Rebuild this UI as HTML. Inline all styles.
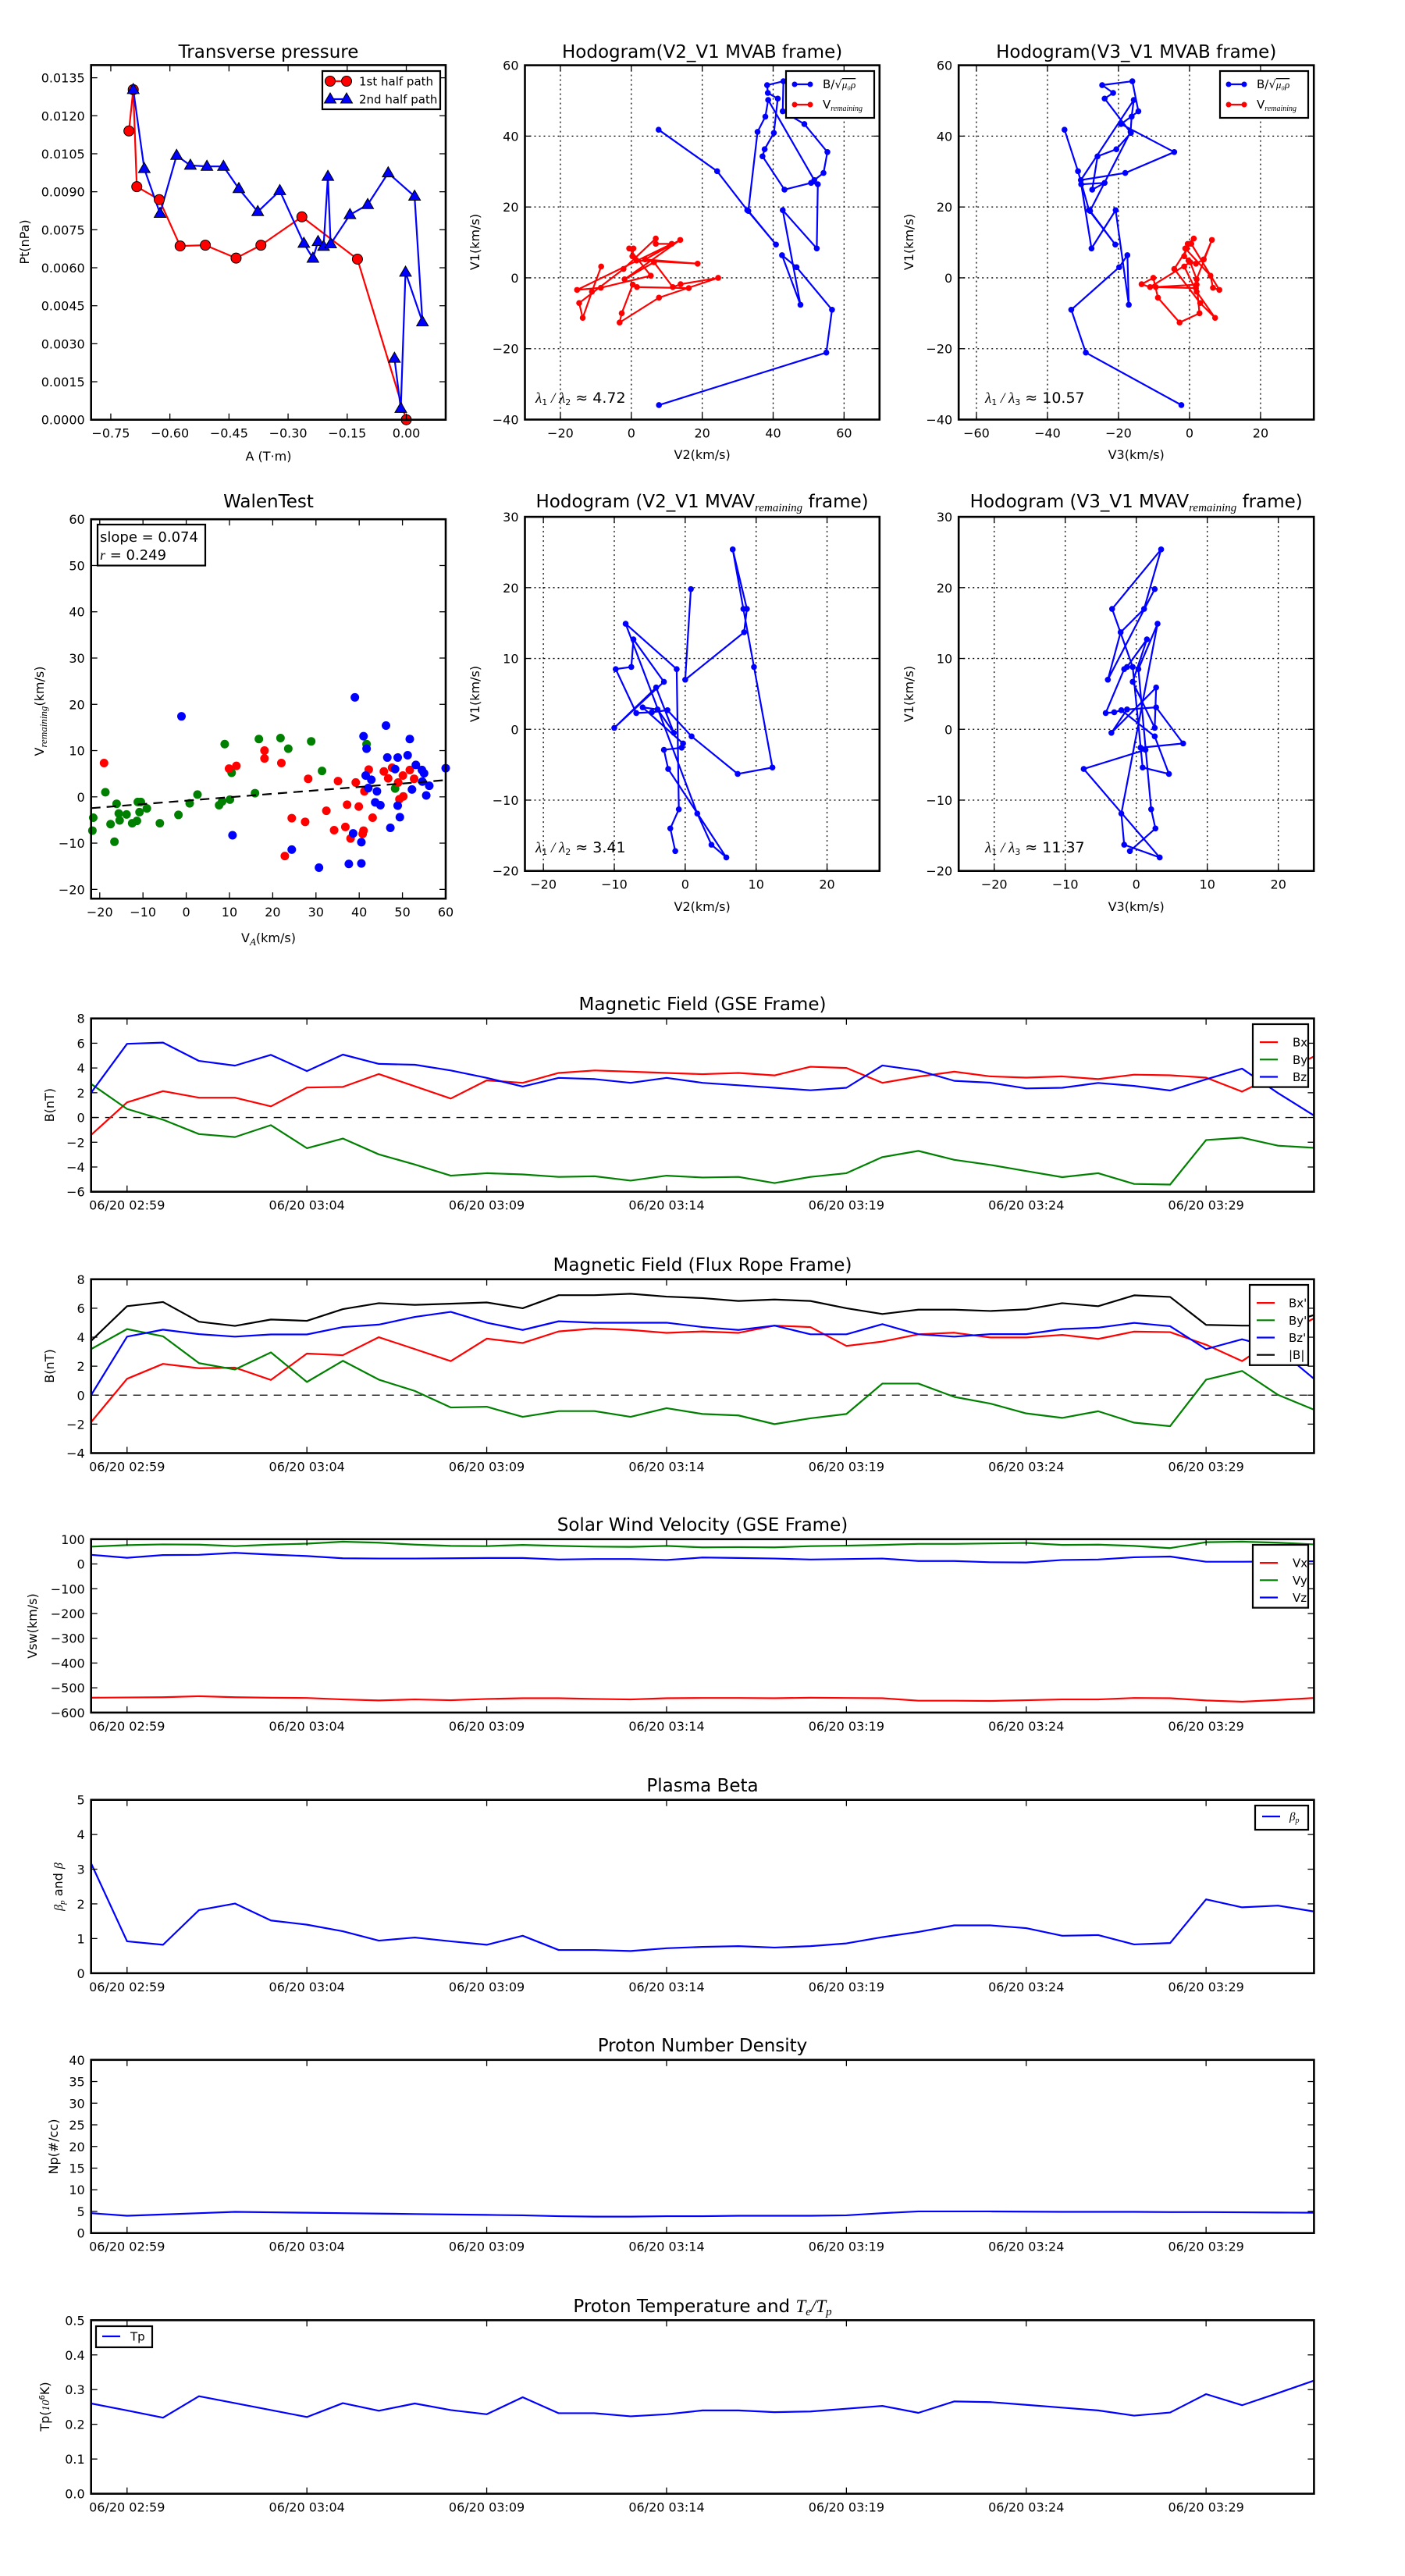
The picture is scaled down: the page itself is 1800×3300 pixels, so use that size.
<!DOCTYPE html>
<html><head><meta charset="utf-8">
<style>
html,body{margin:0;padding:0;background:#fff}
svg{display:block}
text{font-family:'DejaVu Sans','Liberation Sans',sans-serif;fill:#000}
</style></head>
<body>
<svg id="fig" xmlns="http://www.w3.org/2000/svg" width="1800" height="3300" viewBox="0 0 1800 3300"><rect width="1800" height="3300" fill="#fff"/></svg>
<script>
// ---------------- DATA ----------------
const ptHalf1A=[-0.704,-0.693,-0.684,-0.627,-0.574,-0.510,-0.432,-0.369,-0.265,-0.124,0.000];
const ptHalf1P=[0.01140,0.01303,0.00920,0.00869,0.00686,0.00689,0.00638,0.00689,0.00801,0.00634,0.00000];
const ptHalf2A=[-0.693,-0.665,-0.625,-0.583,-0.548,-0.506,-0.464,-0.425,-0.377,-0.321,-0.260,-0.237,-0.224,-0.210,-0.199,-0.192,-0.143,-0.098,-0.046,0.021,0.041,-0.002,-0.014,-0.030];
const ptHalf2P=[0.01303,0.00991,0.00814,0.01043,0.01004,0.01000,0.01000,0.00912,0.00821,0.00904,0.00696,0.00637,0.00703,0.00684,0.00960,0.00694,0.00809,0.00849,0.00974,0.00882,0.00386,0.00582,0.00044,0.00242];
const ptXTicks=[-0.75,-0.60,-0.45,-0.30,-0.15,0.00];
const ptYTicks=[0,0.0015,0.003,0.0045,0.006,0.0075,0.009,0.0105,0.012,0.0135];

const hodoBV2=[7.7,24.2,32.7,40.8,33.0,35.6,37.8,38.6,51.6,54.2,55.3,48.8,42.7,42.9,38.3,38.5,41.3,40.2,37.6,37.0,43.2,50.7,52.6,52.3,42.7,47.7,42.5,46.6,56.6,55.0,7.8];
const hodoBV1=[41.8,30.1,19.1,9.4,18.9,41.2,45.5,50.2,27.6,29.6,35.5,43.4,47.0,55.5,54.4,52.2,50.6,40.9,36.3,34.3,24.9,26.8,26.4,8.3,19.1,-7.6,6.4,3.0,-9.0,-21.1,-35.9];
const hodoBV3=[-35.2,-31.4,-28.3,-20.9,-28.0,-16.6,-16.3,-15.7,-30.6,-18.1,-4.3,-19.3,-14.4,-16.1,-24.6,-21.5,-23.9,-16.5,-20.6,-25.9,-27.4,-23.9,-30.5,-27.6,-20.8,-17.1,-17.5,-19.8,-33.3,-29.2,-2.3];
const hodoRV1=[3.2,-3.9,-11.3,-7.1,2.5,11.1,9.6,9.6,-3.4,-2.8,0.6,8.3,8.3,6.1,4.9,4.0,5.2,10.7,-0.4,4.4,-2.6,-1.8,0,-5.6,-12.6,-10.0,-1.9,-2.6,-2.9];
const hodoRV2=[-8.5,-11.1,-13.7,-14.7,-2.2,6.9,6.9,11.4,-15.3,-8.6,5.5,-0.6,0.6,0.3,1.5,18.7,3.9,13.8,-1.9,6.4,11.7,13.9,24.5,7.8,-3.3,-2.7,0.4,1.6,16.2];
const hodoRV3=[-1.5,2.0,7.2,3.0,-4.3,1.2,-0.5,0.5,8.4,6.6,5.9,-1.2,-0.8,-1.5,-0.3,1.8,4.0,6.3,2.0,0.2,-11.1,-13.5,-10.2,-8.9,-2.8,2.8,2.0,-9.5,1.8];
const mvavV2=[0.8,0,8.3,8.7,6.7,8.2,9.7,12.3,7.4,0.9,-2.5,-4.7,-6.9,-9.8,-7.6,-7.3,-3.0,-10.0,-4.1,-1.6,-3.9,-6.0,-0.3,-0.5,-3.0,-2.4,5.8,3.7,1.7,-8.4,-1.2,-0.9,-2.1,-1.4];
const mvavV1=[19.8,7.0,13.7,17.0,25.4,17.0,8.8,-5.4,-6.3,-1.0,2.7,2.4,2.3,8.5,8.8,12.7,6.7,0.2,5.9,-0.5,2.8,3.1,-2.0,-2.6,-2.9,-5.6,-18.1,-16.3,-11.9,14.9,8.5,-11.3,-14.0,-17.2];
const mvavV3=[2.6,-4.0,-2.2,1.1,3.5,-3.4,-0.5,0.9,4.6,2.6,-2.1,-3.1,-4.3,-1.7,-1.3,1.5,-0.5,2.6,2.8,-3.5,-1.3,2.8,6.6,0.6,1.3,-7.4,3.3,-1.7,-2.1,3.0,0.3,2.1,2.7,-0.9];

const walenGreenX=[-21.5,-21.7,-18.7,-17.5,-16.6,-16.1,-15.6,-15.4,-13.8,-12.5,-11.4,-11.2,-10.5,-10.8,-9.1,-6.1,-1.8,0.8,2.6,7.6,8.3,8.9,10.1,10.5,15.9,16.8,21.8,23.6,28.9,31.4,41.7,48.3];
const walenGreenY=[-4.5,-7.3,1.0,-5.9,-9.7,-1.5,-3.6,-5.1,-3.8,-5.7,-5.2,-1.1,-1.1,-3.3,-2.5,-5.7,-3.9,-1.4,0.5,-1.8,-1.0,11.4,-0.6,5.2,0.8,12.5,12.7,10.4,12.0,5.6,11.4,1.8];
const walenRedX=[-19.0,9.9,11.6,18.1,18.1,22.0,22.8,24.4,27.5,28.2,32.4,34.2,35.1,36.8,37.2,38.0,39.2,39.9,40.8,41.0,41.2,42.2,43.1,45.7,46.7,47.6,49.0,49.3,50.1,50.2,51.7,52.7];
const walenRedY=[7.3,6.1,6.7,10.0,8.3,7.3,-12.8,-4.6,-5.4,3.9,-3.0,-7.2,3.4,-6.5,-1.7,-9.0,3.1,-2.1,-8.0,-7.3,1.2,5.9,-4.5,5.5,4.0,6.3,3.1,-0.5,4.6,0.1,5.8,3.9];
const walenBlueX=[-1.1,10.7,24.4,30.7,37.6,38.6,39.0,40.5,40.5,41.0,41.5,41.7,42.1,42.8,43.7,44.1,44.9,46.2,46.5,47.2,48.3,48.9,48.9,49.4,51.2,51.7,52.2,53.1,54.5,54.6,55.0,55.5,56.2,60.0];
const walenBlueY=[17.4,-8.3,-11.4,-15.3,-14.5,-7.9,21.5,-14.4,-9.8,13.1,4.6,10.4,1.9,3.7,-1.2,1.2,-1.8,15.4,8.5,-6.7,6.0,8.5,-1.9,-4.4,9.0,12.5,1.6,6.9,5.8,3.3,5.1,0.3,2.4,6.2];
const walenFitSlope=0.074;
const walenFitIntercept=-0.82;

const timeMinutes=[0,1,2,3,4,5,6,7,8,9,10,11,12,13,14,15,16,17,18,19,20,21,22,23,24,25,26,27,28,29,30,31,32,33,34];
const timeTickPos=[1,6,11,16,21,26,31];
const timeTickLabels=['06/20 02:59','06/20 03:04','06/20 03:09','06/20 03:14','06/20 03:19','06/20 03:24','06/20 03:29'];

const gseBx=[-1.41,1.22,2.13,1.6,1.6,0.9,2.42,2.47,3.51,2.52,1.53,3.0,2.8,3.6,3.8,3.7,3.6,3.5,3.6,3.4,4.1,4.0,2.8,3.3,3.70,3.32,3.22,3.32,3.1,3.46,3.41,3.22,2.09,3.5,4.93];
const gseBy=[2.71,0.69,-0.18,-1.34,-1.58,-0.62,-2.48,-1.7,-2.98,-3.8,-4.7,-4.5,-4.6,-4.8,-4.75,-5.1,-4.7,-4.85,-4.8,-5.3,-4.8,-4.5,-3.2,-2.7,-3.42,-3.83,-4.33,-4.82,-4.5,-5.37,-5.42,-1.82,-1.63,-2.28,-2.45];
const gseBz=[2.0,5.95,6.05,4.57,4.19,5.06,3.75,5.08,4.33,4.26,3.8,3.2,2.5,3.2,3.1,2.8,3.2,2.8,2.6,2.4,2.2,2.4,4.2,3.8,2.96,2.81,2.35,2.4,2.79,2.55,2.18,3.08,3.95,1.97,0.16];
const gseYTicks=[-6,-4,-2,0,2,4,6,8];

const frBx=[-1.86,1.13,2.16,1.86,1.9,1.05,2.87,2.76,4.0,3.18,2.35,3.9,3.6,4.4,4.6,4.5,4.3,4.4,4.3,4.8,4.7,3.4,3.7,4.2,4.31,3.98,3.98,4.16,3.88,4.39,4.35,3.48,2.35,4.0,5.3];
const frBy=[3.18,4.56,4.06,2.21,1.77,2.95,0.91,2.37,1.07,0.29,-0.85,-0.8,-1.5,-1.1,-1.1,-1.5,-0.9,-1.3,-1.4,-2.0,-1.6,-1.3,0.8,0.8,-0.12,-0.58,-1.26,-1.57,-1.11,-1.9,-2.14,1.07,1.67,0.02,-1.0];
const frBz=[0,4.04,4.52,4.21,4.04,4.19,4.19,4.7,4.87,5.4,5.75,5.0,4.5,5.1,5.0,5.0,5.0,4.7,4.5,4.8,4.2,4.2,4.9,4.2,4.04,4.21,4.21,4.56,4.66,4.99,4.76,3.18,3.86,3.2,1.13];
const frBt=[3.75,6.14,6.43,5.07,4.78,5.22,5.13,5.94,6.35,6.23,6.31,6.4,6.0,6.9,6.9,7.0,6.8,6.7,6.5,6.6,6.5,6.0,5.6,5.9,5.9,5.81,5.92,6.35,6.14,6.89,6.78,4.85,4.8,4.8,5.53];
const frYTicks=[-4,-2,0,2,4,6,8];

const velVx=[-540,-539,-538,-534,-538,-540,-541,-547,-551,-547,-550,-545,-542,-542,-545,-547,-542,-541,-541,-542,-540,-541,-542,-552,-552,-553,-550,-547,-547,-541,-542,-551,-556,-549,-541];
const velVy=[70,76,79,78,72,78,82,90,86,78,73,72,77,73,70,69,73,67,68,67,72,74,77,81,81,83,85,77,78,73,64,88,90,86,79];
const velVz=[37,25,36,37,45,38,32,23,22,22,23,24,24,18,20,20,16,26,24,22,18,20,22,12,12,7,6,16,18,27,30,9,9,10,11];
const velYTicks=[-600,-500,-400,-300,-200,-100,0,100];

const betaP=[3.17,0.92,0.82,1.82,2.01,1.52,1.4,1.21,0.94,1.03,0.92,0.82,1.08,0.67,0.67,0.64,0.72,0.76,0.78,0.74,0.78,0.86,1.04,1.19,1.38,1.38,1.30,1.08,1.1,0.83,0.87,2.13,1.9,1.95,1.78];
const betaYTicks=[0,1,2,3,4,5];

const densNp=[4.6,4.0,4.3,4.6,4.9,4.8,4.7,4.6,4.5,4.4,4.3,4.2,4.1,3.9,3.8,3.8,3.9,3.9,4.0,4.0,4.0,4.1,4.6,5.0,5.0,5.0,4.95,4.9,4.9,4.9,4.85,4.85,4.8,4.75,4.7];
const densYTicks=[0,5,10,15,20,25,30,35,40];

const tempTp=[0.260,0.240,0.219,0.281,0.261,0.241,0.221,0.261,0.239,0.260,0.241,0.229,0.278,0.232,0.232,0.223,0.229,0.240,0.240,0.235,0.237,0.245,0.253,0.233,0.266,0.264,0.256,0.248,0.240,0.225,0.234,0.287,0.255,0.290,0.326];
const tempYTicks=[0,0.1,0.2,0.3,0.4,0.5];

// ---------------- HELPERS ----------------
const NS='http://www.w3.org/2000/svg';
const svg=document.getElementById('fig');
function el(tag,attrs,parent){const e=document.createElementNS(NS,tag);for(const k in attrs)e.setAttribute(k,attrs[k]);(parent||svg).appendChild(e);return e;}
function nm(e,name){
  
  
  return e;
}
function fmt(v,d){const s=Math.abs(v).toFixed(d);return (v<0&&Math.abs(v)>1e-12?'\u2212':'')+s;}
function txt(parent,x,y,str,attrs,name){const t=el('text',Object.assign({x:x,y:y},attrs||{}),parent);t.textContent=str;nm(t,name);return t;}

function makeAxes(c){
  const g=el('g',{}); nm(g,c.name);
  const sx=v=>c.l+(v-c.x0)/(c.x1-c.x0)*(c.r-c.l);
  const sy=v=>c.b-(v-c.y0)/(c.y1-c.y0)*(c.b-c.t);
  const cid='clip-'+c.name;
  const defs=el('defs',{},g);
  const cp=el('clipPath',{id:cid},defs);
  el('rect',{x:c.l-8,y:c.t-8,width:c.r-c.l+16,height:c.b-c.t+16},cp);
  if(c.grid){
    const gg=el('g',{stroke:'#000','stroke-width':1.3,'stroke-dasharray':'2,4'},g); nm(gg,c.name+'-grid');
    c.xt.forEach(v=>{if(v<=c.x0||v>=c.x1)return;const ln=el('line',{x1:sx(v),x2:sx(v),y1:c.t,y2:c.b},gg);nm(ln,'grid-line-x');});
    c.yt.forEach(v=>{if(v<=c.y0||v>=c.y1)return;const ln=el('line',{x1:c.l,x2:c.r,y1:sy(v),y2:sy(v)},gg);nm(ln,'grid-line-y');});
  }
  const under=el('g',{},g); nm(under,c.name+'-reference-lines');
  const data=el('g',{'clip-path':'url(#'+cid+')'},g); nm(data,c.name+'-data');
  const fr=el('g',{},g); nm(fr,c.name+'-axes');
  const tg=el('g',{stroke:'#000','stroke-width':1.3},fr); nm(tg,c.name+'-ticks');
  c.xt.forEach(v=>{if(v<c.x0-1e-9||v>c.x1+1e-9)return;const x=sx(v);el('line',{x1:x,x2:x,y1:c.b,y2:c.b-8},tg);el('line',{x1:x,x2:x,y1:c.t,y2:c.t+8},tg);});
  c.yt.forEach(v=>{if(v<c.y0-1e-9||v>c.y1+1e-9)return;const y=sy(v);el('line',{x1:c.l,x2:c.l+8,y1:y,y2:y},tg);el('line',{x1:c.r,x2:c.r-8,y1:y,y2:y},tg);});
  const frame=el('rect',{x:c.l,y:c.t,width:c.r-c.l,height:c.b-c.t,fill:'none',stroke:'#000','stroke-width':2.6},fr); nm(frame,c.name+'-frame');
  const xg=el('g',{'font-size':16,'text-anchor':'middle'},fr); nm(xg,c.name+'-x-tick-labels');
  c.xt.forEach((v,i)=>{txt(xg,sx(v),c.b+23,c.xl[i],{},'x-tick-label');});
  const yg=el('g',{'font-size':16,'text-anchor':'end'},fr); nm(yg,c.name+'-y-tick-labels');
  c.yt.forEach((v,i)=>{txt(yg,c.l-8,sy(v)+6,c.yl[i],{},'y-tick-label');});
  return {sx,sy,data,under,fr,c};
}
function polyline(ax,xs,ys,color,name,w){
  const pts=xs.map((x,i)=>ax.sx(x).toFixed(2)+','+ax.sy(ys[i]).toFixed(2)).join(' ');
  const p=el('polyline',{points:pts,fill:'none',stroke:color,'stroke-width':w||2.2,'stroke-linejoin':'round'},ax.data);
  nm(p,name);
  return p;
}
function dots(ax,xs,ys,color,name,r,stroke){
  const g=el('g',{fill:color},ax.data); nm(g,name);
  xs.forEach((x,i)=>{const c=el('circle',{cx:ax.sx(x),cy:ax.sy(ys[i]),r:r},g);if(stroke){c.setAttribute('stroke','#000');c.setAttribute('stroke-width','1');}nm(c,name+'-point');});
  return g;
}
function tris(ax,xs,ys,color,name){
  const g=el('g',{fill:color,stroke:'#000','stroke-width':1},ax.data); nm(g,name);
  xs.forEach((x,i)=>{const X=ax.sx(x),Y=ax.sy(ys[i]);const t=el('polygon',{points:`${X},${Y-8} ${X-7.5},${Y+5} ${X+7.5},${Y+5}`},g);nm(t,name+'-point');});
}
function title(x,y,parts,name){
  const t=el('text',{x:x,y:y,'font-size':23,'text-anchor':'middle'}); nm(t,name);
  parts.forEach(p=>{const s=el('tspan',{},t);if(p.math){s.setAttribute('font-family','Liberation Serif,serif');s.setAttribute('font-style','italic');}if(p.size)s.setAttribute('font-size',p.size);if(p.dy)s.setAttribute('dy',p.dy);s.textContent=p.t;});
  return t;
}
function vlabel(x,y,parts,name,size){
  const t=el('text',{x:0,y:0,'font-size':size||16,'text-anchor':'middle',transform:`translate(${x},${y}) rotate(-90)`}); nm(t,name);
  parts.forEach(p=>{const s=el('tspan',{},t);if(p.math){s.setAttribute('font-family','Liberation Serif,serif');s.setAttribute('font-style','italic');}if(p.size)s.setAttribute('font-size',p.size);if(p.dy)s.setAttribute('dy',p.dy);s.textContent=p.t;});
  return t;
}
function hlabel(x,y,parts,name,size){
  const t=el('text',{x:x,y:y,'font-size':size||16,'text-anchor':'middle'}); nm(t,name);
  parts.forEach(p=>{const s=el('tspan',{},t);if(p.math){s.setAttribute('font-family','Liberation Serif,serif');s.setAttribute('font-style','italic');}if(p.size)s.setAttribute('font-size',p.size);if(p.dy)s.setAttribute('dy',p.dy);s.textContent=p.t;});
  return t;
}
function legendBox(x1,y1,x2,y2,name){
  const g=el('g',{}); nm(g,name);
  const r=el('rect',{x:x1,y:y1,width:x2-x1,height:y2-y1,fill:'#fff',stroke:'#000','stroke-width':2.2},g); nm(r,name+'-box');
  return g;
}
function legendLine(g,x1,x2,y,color,name){const l=el('line',{x1:x1,x2:x2,y1:y,y2:y,stroke:color,'stroke-width':2.2},g);nm(l,name);return l;}

// ---------------- TRANSVERSE PRESSURE ----------------
(function(){
  const ax=makeAxes({name:'transverse-pressure-chart',l:116.7,r:571,t:83.4,b:537.7,x0:-0.8,x1:0.1,y0:0,y1:0.014,
    xt:ptXTicks,xl:ptXTicks.map(v=>fmt(v,2)),yt:ptYTicks,yl:ptYTicks.map(v=>fmt(v,4))});
  polyline(ax,ptHalf1A,ptHalf1P,'#ff0000','first-half-path-line',2.2);
  polyline(ax,ptHalf2A,ptHalf2P,'#0000ff','second-half-path-line',2.2);
  dots(ax,ptHalf1A,ptHalf1P,'#ff0000','first-half-path-markers',6.5,true);
  tris(ax,ptHalf2A,ptHalf2P,'#0000ff','second-half-path-markers');
  title(344,74,[{t:'Transverse pressure'}],'transverse-pressure-title');
  vlabel(37,310,[{t:'Pt(nPa)'}],'y-axis-title');
  hlabel(344,590,[{t:'A (T\u00b7m)'}],'x-axis-title');
  const lg=legendBox(413,91,564,140,'transverse-pressure-legend');
  legendLine(lg,423,444,104,'#ff0000','legend-line-first');
  const c1=el('circle',{cx:423,cy:104,r:6.5,fill:'#ff0000',stroke:'#000'},lg); nm(c1,'legend-marker');
  const c2=el('circle',{cx:444,cy:104,r:6.5,fill:'#ff0000',stroke:'#000'},lg); nm(c2,'legend-marker');
  txt(lg,460,109.5,'1st half path',{'font-size':15},'legend-entry-first-half');
  legendLine(lg,423,444,127,'#0000ff','legend-line-second');
  const t1=el('polygon',{points:'423,119 415.5,132 430.5,132',fill:'#0000ff',stroke:'#000'},lg); nm(t1,'legend-marker');
  const t2=el('polygon',{points:'444,119 436.5,132 451.5,132',fill:'#0000ff',stroke:'#000'},lg); nm(t2,'legend-marker');
  txt(lg,460,132.5,'2nd half path',{'font-size':15},'legend-entry-second-half');
})();

// ---------------- HODOGRAMS ----------------
function hodoLegend(x1,y1,name){
  const lg=legendBox(x1,y1,x1+113,y1+60,name);
  legendLine(lg,x1+11,x1+31,y1+17,'#0000ff','legend-line-b');
  [x1+11,x1+31].forEach(x=>{const c=el('circle',{cx:x,cy:y1+17,r:3.5,fill:'#0000ff'},lg);nm(c,'legend-marker');});
  const t=el('text',{x:x1+47,y:y1+22,'font-size':15},lg); nm(t,'legend-entry-b-alfven');
  const a=el('tspan',{},t); a.textContent='B/\u221a';
  const b=el('tspan',{'font-family':'Liberation Serif,serif','font-style':'italic','font-size':13,'text-decoration':'overline'},t); b.textContent='\u03bc\u2080\u03c1';
  legendLine(lg,x1+11,x1+31,y1+43,'#ff0000','legend-line-v');
  [x1+11,x1+31].forEach(x=>{const c=el('circle',{cx:x,cy:y1+43,r:3.5,fill:'#ff0000'},lg);nm(c,'legend-marker');});
  const t2=el('text',{x:x1+47,y:y1+48,'font-size':15},lg); nm(t2,'legend-entry-v-remaining');
  const c=el('tspan',{},t2); c.textContent='V';
  const d=el('tspan',{'font-family':'Liberation Serif,serif','font-style':'italic','font-size':10,dy:3},t2); d.textContent='remaining';
}
function lambdaText(x,y,sub2,val,name){
  const t=el('text',{x:x,y:y,'font-size':19}); nm(t,name);
  const a=el('tspan',{'font-family':'Liberation Serif,serif','font-style':'italic'},t); a.textContent='\u03bb';
  const b=el('tspan',{'font-size':11,dy:3},t); b.textContent='1';
  const c=el('tspan',{'font-family':'Liberation Serif,serif','font-style':'italic',dy:-3},t); c.textContent=' / \u03bb';
  const d=el('tspan',{'font-size':11,dy:3},t); d.textContent=sub2;
  const e=el('tspan',{dy:-3},t); e.textContent=' \u2248 '+val;
}
const h1x=[-20,0,20,40,60], hy=[-40,-20,0,20,40,60];
(function(){
  const ax=makeAxes({name:'hodogram-v2-v1-mvab',l:672.5,r:1126.8,t:83.6,b:537.5,x0:-30,x1:70,y0:-40,y1:60,grid:true,
    xt:h1x,xl:h1x.map(v=>fmt(v,0)),yt:hy,yl:hy.map(v=>fmt(v,0))});
  polyline(ax,hodoBV2,hodoBV1,'#0000ff','b-alfven-path',2.2);
  dots(ax,hodoBV2,hodoBV1,'#0000ff','b-alfven-points',3.8);
  polyline(ax,hodoRV2,hodoRV1,'#ff0000','v-remaining-path',2.2);
  dots(ax,hodoRV2,hodoRV1,'#ff0000','v-remaining-points',3.8);
  title(899.6,74,[{t:'Hodogram(V2_V1 MVAB frame)'}],'hodogram-v2-v1-mvab-title');
  vlabel(614,310,[{t:'V1(km/s)'}],'y-axis-title');
  hlabel(899.6,588,[{t:'V2(km/s)'}],'x-axis-title');
  hodoLegend(1007,91,'hodogram-v2-v1-legend');
  lambdaText(686,516,'2','4.72','eigenvalue-ratio-label');
})();
const h2x=[-60,-40,-20,0,20];
(function(){
  const ax=makeAxes({name:'hodogram-v3-v1-mvab',l:1228.2,r:1683.2,t:83.6,b:537.5,x0:-65,x1:35,y0:-40,y1:60,grid:true,
    xt:h2x,xl:h2x.map(v=>fmt(v,0)),yt:hy,yl:hy.map(v=>fmt(v,0))});
  polyline(ax,hodoBV3,hodoBV1,'#0000ff','b-alfven-path',2.2);
  dots(ax,hodoBV3,hodoBV1,'#0000ff','b-alfven-points',3.8);
  polyline(ax,hodoRV3,hodoRV1,'#ff0000','v-remaining-path',2.2);
  dots(ax,hodoRV3,hodoRV1,'#ff0000','v-remaining-points',3.8);
  title(1455.7,74,[{t:'Hodogram(V3_V1 MVAB frame)'}],'hodogram-v3-v1-mvab-title');
  vlabel(1170,310,[{t:'V1(km/s)'}],'y-axis-title');
  hlabel(1455.7,588,[{t:'V3(km/s)'}],'x-axis-title');
  hodoLegend(1563,91,'hodogram-v3-v1-legend');
  lambdaText(1262,516,'3','10.57','eigenvalue-ratio-label');
})();
const r2x=[-20,-10,0,10,20], r2y=[-20,-10,0,10,20,30];
(function(){
  const ax=makeAxes({name:'hodogram-v2-v1-mvav',l:672.5,r:1126.8,t:662.1,b:1115.7,x0:-22.6,x1:27.4,y0:-20,y1:30,grid:true,
    xt:r2x,xl:r2x.map(v=>fmt(v,0)),yt:r2y,yl:r2y.map(v=>fmt(v,0))});
  polyline(ax,mvavV2,mvavV1,'#0000ff','mvav-path',2.2);
  dots(ax,mvavV2,mvavV1,'#0000ff','mvav-points',3.8);
  title(899.6,650,[{t:'Hodogram (V2_V1 MVAV'},{t:'remaining',math:1,size:15,dy:5},{t:' frame)',dy:-5}],'hodogram-v2-v1-mvav-title');
  vlabel(614,889,[{t:'V1(km/s)'}],'y-axis-title');
  hlabel(899.6,1167,[{t:'V2(km/s)'}],'x-axis-title');
  lambdaText(686,1092,'2','3.41','eigenvalue-ratio-label');
})();
(function(){
  const ax=makeAxes({name:'hodogram-v3-v1-mvav',l:1228.2,r:1683.2,t:662.1,b:1115.7,x0:-25,x1:25,y0:-20,y1:30,grid:true,
    xt:r2x,xl:r2x.map(v=>fmt(v,0)),yt:r2y,yl:r2y.map(v=>fmt(v,0))});
  polyline(ax,mvavV3,mvavV1,'#0000ff','mvav-path',2.2);
  dots(ax,mvavV3,mvavV1,'#0000ff','mvav-points',3.8);
  title(1455.7,650,[{t:'Hodogram (V3_V1 MVAV'},{t:'remaining',math:1,size:15,dy:5},{t:' frame)',dy:-5}],'hodogram-v3-v1-mvav-title');
  vlabel(1170,889,[{t:'V1(km/s)'}],'y-axis-title');
  hlabel(1455.7,1167,[{t:'V3(km/s)'}],'x-axis-title');
  lambdaText(1262,1092,'3','11.37','eigenvalue-ratio-label');
})();

// ---------------- WALEN ----------------
const walTicks=[-20,-10,0,10,20,30,40,50,60];
(function(){
  const ax=makeAxes({name:'walen-test-chart',l:116.7,r:571,t:665.2,b:1151.2,x0:-22,x1:60,y0:-22,y1:60,
    xt:walTicks,xl:walTicks.map(v=>fmt(v,0)),yt:walTicks,yl:walTicks.map(v=>fmt(v,0))});
  dots(ax,walenGreenX,walenGreenY,'#008000','walen-component-2',5.5);
  dots(ax,walenRedX,walenRedY,'#ff0000','walen-component-1',5.5);
  dots(ax,walenBlueX,walenBlueY,'#0000ff','walen-component-3',5.5);
  const fx=[ax.c.x0,ax.c.x1];
  const fl=el('line',{x1:ax.sx(fx[0]),y1:ax.sy(walenFitSlope*fx[0]+walenFitIntercept),x2:ax.sx(fx[1]),y2:ax.sy(walenFitSlope*fx[1]+walenFitIntercept),stroke:'#000','stroke-width':2.2,'stroke-dasharray':'12,8'},ax.data);
  nm(fl,'walen-fit-line');
  title(344,650,[{t:'WalenTest'}],'walen-test-title');
  vlabel(56,911,[{t:'V'},{t:'remaining',math:1,size:13,dy:4},{t:'(km/s)',dy:-4}],'y-axis-title');
  hlabel(344,1207,[{t:'V'},{t:'A',math:1,size:13,dy:4},{t:'(km/s)',dy:-4}],'x-axis-title');
  const lg=legendBox(125,672,263,724.5,'walen-stats-box');
  txt(lg,128,694,'slope = 0.074',{'font-size':18},'slope-label');
  const t=el('text',{x:128,y:717,'font-size':18},lg); nm(t,'correlation-label');
  const a=el('tspan',{'font-family':'Liberation Serif,serif','font-style':'italic'},t); a.textContent='r';
  const b=el('tspan',{},t); b.textContent=' = 0.249';
})();

// ---------------- TIME SERIES ----------------
function timeAxes(name,t,b,y0,y1,yt,yl){
  return makeAxes({name:name,l:116.7,r:1683.4,t:t,b:b,x0:0,x1:34,y0:y0,y1:y1,
    xt:timeTickPos,xl:timeTickLabels,yt:yt,yl:yl});
}
function zeroLine(ax,name){const l=el('line',{x1:ax.c.l,x2:ax.c.r,y1:ax.sy(0),y2:ax.sy(0),stroke:'#000','stroke-width':1.3,'stroke-dasharray':'10,8'},ax.under);nm(l,name);}
function tsLegend(x1,y1,x2,entries,name,dyStep,textOff){
  const y2=y1+14+entries.length*dyStep;
  const lg=legendBox(x1,y1,x2,y2,name);
  entries.forEach((e,i)=>{const y=y1+12+dyStep*0.5+i*dyStep;legendLine(lg,x1+9,x1+32,y,e.c,'legend-line');
    const t=el('text',{x:x1+textOff,y:y+5.5,'font-size':15},lg);nm(t,'legend-entry-'+e.n);
    e.p.forEach(p=>{const s=el('tspan',{},t);if(p.math){s.setAttribute('font-family','Liberation Serif,serif');s.setAttribute('font-style','italic');}if(p.size)s.setAttribute('font-size',p.size);if(p.dy)s.setAttribute('dy',p.dy);s.textContent=p.t;});
  });
}
// Panel 1
(function(){
  const ax=timeAxes('magnetic-field-gse-chart',1304.7,1526.7,-6,8,gseYTicks,gseYTicks.map(v=>fmt(v,0)));
  zeroLine(ax,'zero-reference-line');
  polyline(ax,timeMinutes,gseBx,'#ff0000','bx-line');
  polyline(ax,timeMinutes,gseBy,'#008000','by-line');
  polyline(ax,timeMinutes,gseBz,'#0000ff','bz-line');
  title(900,1294,[{t:'Magnetic Field (GSE Frame)'}],'magnetic-field-gse-title');
  vlabel(69,1415.7,[{t:'B(nT)'}],'y-axis-title');
  tsLegend(1605,1312,1676,[{c:'#ff0000',n:'bx',p:[{t:'Bx'}]},{c:'#008000',n:'by',p:[{t:'By'}]},{c:'#0000ff',n:'bz',p:[{t:'Bz'}]}],'magnetic-field-gse-legend',22.2,51);
})();
// Panel 2
(function(){
  const ax=timeAxes('magnetic-field-flux-rope-chart',1638.8,1861.5,-4,8,frYTicks,frYTicks.map(v=>fmt(v,0)));
  zeroLine(ax,'zero-reference-line');
  polyline(ax,timeMinutes,frBx,'#ff0000','bx-prime-line');
  polyline(ax,timeMinutes,frBy,'#008000','by-prime-line');
  polyline(ax,timeMinutes,frBz,'#0000ff','bz-prime-line');
  polyline(ax,timeMinutes,frBt,'#000000','b-magnitude-line');
  title(900,1628,[{t:'Magnetic Field (Flux Rope Frame)'}],'magnetic-field-flux-rope-title');
  vlabel(69,1750,[{t:'B(nT)'}],'y-axis-title');
  tsLegend(1601,1646,1676,[{c:'#ff0000',n:'bx-prime',p:[{t:"Bx'"}]},{c:'#008000',n:'by-prime',p:[{t:"By'"}]},{c:'#0000ff',n:'bz-prime',p:[{t:"Bz'"}]},{c:'#000000',n:'b-magnitude',p:[{t:'|B|'}]}],'magnetic-field-flux-rope-legend',22.2,50);
})();
// Panel 3
(function(){
  const ax=timeAxes('solar-wind-velocity-chart',1971.8,2193.9,-600,100,velYTicks,velYTicks.map(v=>fmt(v,0)));
  polyline(ax,timeMinutes,velVx,'#ff0000','vx-line');
  polyline(ax,timeMinutes,velVy,'#008000','vy-line');
  polyline(ax,timeMinutes,velVz,'#0000ff','vz-line');
  title(900,1961,[{t:'Solar Wind Velocity (GSE Frame)'}],'solar-wind-velocity-title');
  vlabel(47,2083,[{t:'Vsw(km/s)'}],'y-axis-title');
  tsLegend(1605,1979,1676,[{c:'#ff0000',n:'vx',p:[{t:'Vx'}]},{c:'#008000',n:'vy',p:[{t:'Vy'}]},{c:'#0000ff',n:'vz',p:[{t:'Vz'}]}],'solar-wind-velocity-legend',22.2,51);
})();
// Panel 4
(function(){
  const ax=timeAxes('plasma-beta-chart',2305.7,2527.8,0,5,betaYTicks,betaYTicks.map(v=>fmt(v,0)));
  polyline(ax,timeMinutes,betaP,'#0000ff','beta-p-line');
  title(900,2295,[{t:'Plasma Beta'}],'plasma-beta-title');
  vlabel(80,2417,[{t:'\u03b2',math:1},{t:'p',math:1,size:11,dy:3},{t:' and ',dy:-3},{t:'\u03b2',math:1}],'y-axis-title');
  const lg=legendBox(1608,2313,1676,2344,'plasma-beta-legend');
  legendLine(lg,1617,1640,2327,'#0000ff','legend-line');
  const t=el('text',{x:1652,y:2332,'font-size':15},lg); nm(t,'legend-entry-beta-p');
  const a=el('tspan',{'font-family':'Liberation Serif,serif','font-style':'italic'},t); a.textContent='\u03b2';
  const b=el('tspan',{'font-family':'Liberation Serif,serif','font-style':'italic','font-size':10,dy:3},t); b.textContent='p';
})();
// Panel 5
(function(){
  const ax=timeAxes('proton-density-chart',2638.8,2860.7,0,40,densYTicks,densYTicks.map(v=>fmt(v,0)));
  polyline(ax,timeMinutes,densNp,'#0000ff','proton-density-line');
  title(900,2628,[{t:'Proton Number Density'}],'proton-density-title');
  vlabel(74,2750,[{t:'Np(#/cc)'}],'y-axis-title');
})();
// Panel 6
(function(){
  const ax=timeAxes('proton-temperature-chart',2972.3,3194.6,0,0.5,tempYTicks,tempYTicks.map(v=>fmt(v,1)));
  polyline(ax,timeMinutes,tempTp,'#0000ff','proton-temperature-line');
  title(900,2962,[{t:'Proton Temperature and '},{t:'T',math:1},{t:'e',math:1,size:15,dy:4},{t:'/',math:1,dy:-4},{t:'T',math:1},{t:'p',math:1,size:15,dy:4}],'proton-temperature-title');
  vlabel(63,3083,[{t:'Tp('},{t:'10',math:1,size:14},{t:'6',size:10,dy:-6},{t:'K)',dy:6}],'y-axis-title');
  const lg=legendBox(123,2980,195,3007,'proton-temperature-legend');
  legendLine(lg,131,154,2993,'#0000ff','legend-line');
  txt(lg,167,2998.5,'Tp',{'font-size':15},'legend-entry-tp');
})();
</script>
</body></html>
